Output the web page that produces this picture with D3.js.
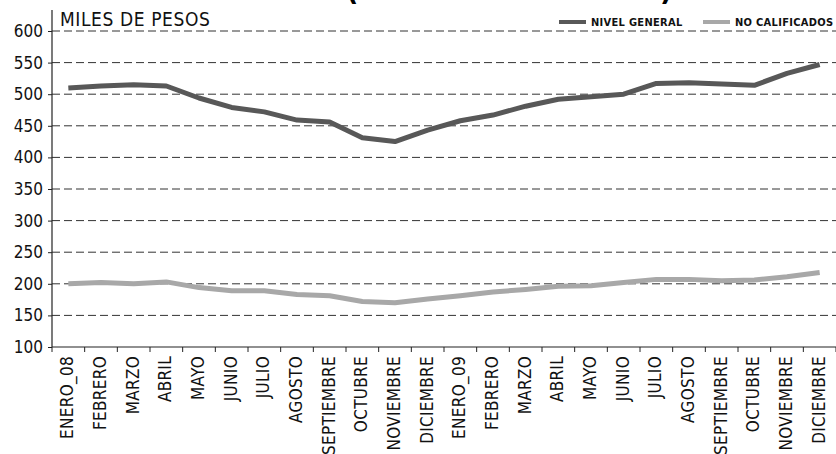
<!DOCTYPE html>
<html><head><meta charset="utf-8">
<script src="https://cdn.jsdelivr.net/npm/d3@7"></script>
<style>
html,body{margin:0;padding:0;background:#fff;}
svg{display:block;}
text{font-family:'DejaVu Sans Condensed','DejaVu Sans',sans-serif;font-stretch:condensed;}
</style></head>
<body><svg id="c" width="836" height="454"></svg>
<script>
const categories = ["ENERO_08","FEBRERO","MARZO","ABRIL","MAYO","JUNIO","JULIO","AGOSTO","SEPTIEMBRE","OCTUBRE","NOVIEMBRE","DICIEMBRE",
  "ENERO_09","FEBRERO","MARZO","ABRIL","MAYO","JUNIO","JULIO","AGOSTO","SEPTIEMBRE","OCTUBRE","NOVIEMBRE","DICIEMBRE"];
const nivelGeneral = [510,513,515,513,494,479,472,459,456,431,425,443,458,467,481,492,496,500,517,518,516,514,533,547];
const noCalificados = [200,202,200,203,194,189,189,183,181,172,170,176,181,187,191,196,197,202,207,207,205,206,211,218];
const yTicks = [100,150,200,250,300,350,400,450,500,550,600];
const seriesNames = ["NIVEL GENERAL","NO CALIFICADOS"];
const seriesColors = ["#585858","#a8a8a8"];
const yTitle = "MILES DE PESOS";

const svg = d3.select("#c");
const x = d3.scaleBand().domain(d3.range(categories.length)).range([52,836]);
const y = d3.scaleLinear().domain([100,600]).range([347,31]);

// clipped title parentheses at top (cut by the top edge, as in the reference)
svg.append("text").attr("x",346).attr("y",0).attr("font-size",30).attr("font-weight","bold").text("(");
svg.append("text").attr("x",660).attr("y",0).attr("font-size",30).attr("font-weight","bold").text(")");

// grid
svg.append("g").selectAll("line").data(yTicks.filter(d=>d>100)).join("line")
  .attr("x1",52).attr("x2",836).attr("y1",d=>y(d)).attr("y2",d=>y(d))
  .attr("stroke","#333").attr("stroke-width",1).attr("stroke-dasharray","8,4");

// y axis
const ya = svg.append("g").attr("transform","translate(52,0)")
  .call(d3.axisLeft(y).tickValues(yTicks).tickSize(4).tickPadding(5));
ya.select(".domain").remove();
ya.selectAll(".tick line").attr("stroke","#222");
ya.selectAll(".tick text").attr("font-size",17).attr("fill","#111").style("font-family","'DejaVu Sans Condensed','DejaVu Sans',sans-serif");
svg.append("line").attr("x1",52).attr("x2",52).attr("y1",10).attr("y2",347).attr("stroke","#222").attr("stroke-width",1.2);

// x axis
svg.append("line").attr("x1",52).attr("x2",836).attr("y1",347).attr("y2",347).attr("stroke","#222").attr("stroke-width",1.2);
svg.append("g").selectAll("line").data(d3.range(categories.length+1)).join("line")
  .attr("x1",i=>52+i*x.step()).attr("x2",i=>52+i*x.step()).attr("y1",347).attr("y2",352)
  .attr("stroke","#222");
svg.append("g").selectAll("text").data(categories).join("text")
  .attr("transform",(d,i)=>`translate(${x(i)+x.bandwidth()/2 - 1},356) rotate(-90)`)
  .attr("text-anchor","end").attr("dy","0.36em").attr("font-size",17).attr("letter-spacing",0.3)
  .attr("fill","#111").text(d=>d);

// y title
svg.append("text").attr("x",60).attr("y",26).attr("font-size",19).attr("letter-spacing",0.6).attr("fill","#111").text(yTitle);

// lines
const line = d3.line().x((d,i)=>x(i)+x.bandwidth()/2).y(d=>y(d));
[nivelGeneral,noCalificados].forEach((s,k)=>{
  svg.append("path").datum(s).attr("d",line).attr("fill","none")
    .attr("stroke",seriesColors[k]).attr("stroke-width",5).attr("stroke-linejoin","round");
});

// legend
const legX = [559,703];
seriesNames.forEach((n,k)=>{
  svg.append("rect").attr("x",legX[k]).attr("y",20).attr("width",27).attr("height",4).attr("fill",seriesColors[k]);
  svg.append("text").attr("x",legX[k]+32).attr("y",26).attr("font-size",11).attr("font-weight","bold").attr("letter-spacing",0.3)
    .attr("fill","#111").text(n);
});
</script></body></html>
